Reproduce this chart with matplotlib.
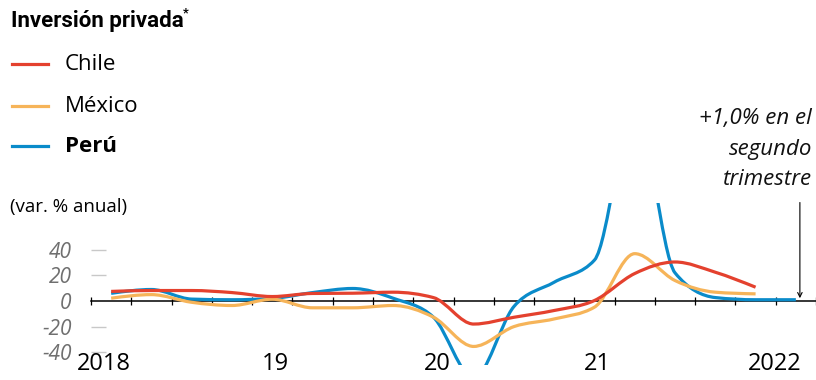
import numpy as np
import matplotlib
matplotlib.use("Agg")
import matplotlib.pyplot as plt
from matplotlib.path import Path
from matplotlib.patches import PathPatch
from matplotlib.lines import Line2D

# quarterly data, 2018 Q1 .. 2022 Q2 (var. % anual)
quarters = ["2018T1", "2018T2", "2018T3", "2018T4",
            "2019T1", "2019T2", "2019T3", "2019T4",
            "2020T1", "2020T2", "2020T3", "2020T4",
            "2021T1", "2021T2", "2021T3", "2021T4",
            "2022T1", "2022T2"]
chile = [7.5, 8.2, 8.2, 6.6, 3.5, 5.9, 6.1, 6.9, 2.7, -18.0, -12.7, -7.4,
         0.4, 21.5, 30.5, 22.5, 10.8]
mexico = [2.2, 5.0, -1.0, -3.5, 1.4, -5.3, -5.3, -3.5, -12.6, -35.5, -20.0, -14.0,
          -4.8, 37.0, 16.0, 6.9, 5.6]
peru = [6.0, 9.0, 1.5, 1.0, 2.0, 6.6, 9.8, 2.2, -12.6, -60.0, -4.3, 14.7,
        32.0, 150.0, 22.0, 2.7, 1.0, 1.0]

year_labels = ["2018", "19", "20", "21", "2022"]
year_label_pos = [-0.18, 4.07, 8.1, 12.06, 16.47]
yticks = [-40, -20, 0, 20, 40]

RED = "#E4412E"
ORANGE = "#F6B459"
BLUE = "#0A8BCA"

plt.rcParams["font.family"] = ["Open Sans", "DejaVu Sans"]

W, H = 816, 380


def fx(px):
    return px / W


def fy(py):
    return 1 - py / H


def monotone_path(x, y):
    # d3-style monotoneX curve built as cubic bezier path
    x = np.asarray(x, float)
    y = np.asarray(y, float)
    n = len(x)
    h = np.diff(x)
    s = np.diff(y) / h
    t = np.zeros(n)
    for k in range(1, n - 1):
        p = (s[k - 1] * h[k] + s[k] * h[k - 1]) / (h[k - 1] + h[k])
        t[k] = (np.sign(s[k - 1]) + np.sign(s[k])) * min(abs(s[k - 1]), abs(s[k]), 0.5 * abs(p))
    t[0] = (3 * s[0] - t[1]) / 2
    t[-1] = (3 * s[-1] - t[-2]) / 2
    verts = [(x[0], y[0])]
    codes = [Path.MOVETO]
    for k in range(n - 1):
        d = h[k] / 3
        verts += [(x[k] + d, y[k] + d * t[k]),
                  (x[k + 1] - d, y[k + 1] - d * t[k + 1]),
                  (x[k + 1], y[k + 1])]
        codes += [Path.CURVE4] * 3
    return Path(verts, codes)


fig = plt.figure(figsize=(W / 100, H / 100), dpi=100)
ax = fig.add_axes([fx(91), fy(365), 1 - fx(91), (365 - 203) / H])
ax.set_xlim(-0.5, 17.49)
ax.set_ylim(-50.0, 76.6)

for name in ["top", "right", "left"]:
    ax.spines[name].set_visible(False)
ax.spines["bottom"].set_position(("data", 0))
ax.spines["bottom"].set_linewidth(1.1)
ax.spines["bottom"].set_zorder(1)

ax.set_xticks([])
ax.set_xticks(np.arange(-0.5, 18, 1), minor=True)
ax.tick_params(axis="x", which="minor", direction="inout", length=6, width=0.9, color="black")

ax.set_yticks(yticks)
ax.set_yticklabels([str(v) for v in yticks], fontstyle="italic", fontsize=15, color="#6f6f6f")
ax.tick_params(axis="y", direction="in", length=11, width=1, color="#c8c8c8", pad=14)
ax.yaxis.get_major_ticks()[2].tick1line.set_visible(False)

for lab, pos in zip(year_labels, year_label_pos):
    ax.text(pos, -49.0, lab, ha="center", va="center", fontsize=17, color="black")

xq = np.arange(len(quarters))
for vals, col, z in [(peru, BLUE, 2), (mexico, ORANGE, 3), (chile, RED, 4)]:
    path = monotone_path(xq[:len(vals)], vals)
    ax.add_patch(PathPatch(path, fill=False, edgecolor=col, lw=2.3, zorder=z,
                           capstyle="butt", joinstyle="round"))

# annotation for Peru last value
ax.annotate("", xy=(xq[len(peru) - 1] + 0.1, peru[-1] + 1.2),
            xytext=(xq[len(peru) - 1] + 0.1, 77),
            arrowprops=dict(arrowstyle="->", lw=0.8, color="black",
                            shrinkA=0, shrinkB=0, mutation_scale=8),
            annotation_clip=False)
for txt, ty in zip(["+1,0% en el", "segundo", "trimestre"], [118, 149, 180]):
    fig.text(fx(812), fy(ty), txt, ha="right", va="center",
             fontsize=16, fontstyle="italic", color="#111111")

# title and legend
fig.text(fx(11), fy(21), "Inversión privada", ha="left", va="center",
         fontsize=16, fontweight="bold", color="black",
         family=["Roboto", "DejaVu Sans"])
fig.text(fx(183), fy(13), "*", ha="left", va="center", fontsize=9,
         fontweight="bold", color="black", family=["Roboto", "DejaVu Sans"])

legend_items = [("Chile", RED, "normal"), ("México", ORANGE, "normal"), ("Perú", BLUE, "bold")]
legend_y = [64, 106, 146]
for (lab, col, wt), ly in zip(legend_items, legend_y):
    fig.add_artist(Line2D([fx(12), fx(48)], [fy(ly), fy(ly)], color=col, lw=2.3,
                          transform=fig.transFigure))
    fig.text(fx(65), fy(ly), lab, ha="left", va="center", fontsize=16,
             fontweight=wt, color="black")

fig.text(fx(10), fy(207), "(var. % anual)", ha="left", va="center",
         fontsize=13.5, color="black")

fig.savefig("out.png", dpi=100)
